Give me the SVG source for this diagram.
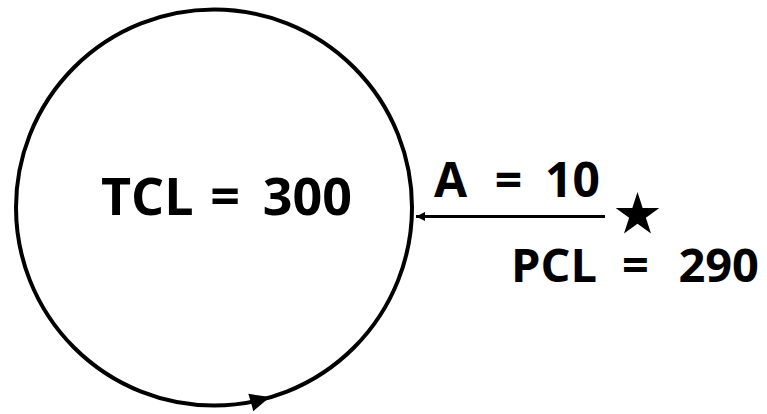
<svg xmlns="http://www.w3.org/2000/svg" width="767" height="414" viewBox="0 0 767 414">
<style>
.lbl{font-family:"Open Sans","Noto Sans","Liberation Sans",sans-serif;font-weight:bold;fill:#000}
.ln{fill:none;stroke:#000}
.m{text-anchor:middle}
.e{text-anchor:end}
</style>
<defs>
<marker id="ah" viewBox="0 0 10 10" refX="10" refY="5" markerWidth="3" markerHeight="3" orient="auto" markerUnits="strokeWidth">
<path d="M0,0 L10,5 L0,10 Z" fill="#000"/>
</marker>
</defs>
<rect width="767" height="414" fill="#fff"/>
<g id="tcl-circle">
<circle class="ln" cx="214" cy="207.5" r="198" stroke-width="4"/>
<polygon points="270,397 253.3,411.2 251,402.5 248.3,393.8" fill="#000"/>
<text class="lbl" y="215" font-size="52"><tspan x="101">TCL</tspan><tspan class="m" x="225">=</tspan><tspan class="e" x="352">300</tspan></text>
</g>
<g id="pcl-star">
<polygon points="637.5,192 642.67,207.89 659.37,207.89 645.86,217.72 651.02,233.61 637.5,223.79 623.98,233.61 629.14,217.72 615.63,207.89 632.33,207.89" fill="#000"/>
<text class="lbl" y="282" font-size="47"><tspan x="511">PCL</tspan><tspan class="m" x="635.5">=</tspan><tspan class="e" x="759">290</tspan></text>
</g>
<g id="connectors">
<line class="ln" x1="605" y1="216.5" x2="416" y2="216.5" stroke-width="3" marker-end="url(#ah)"/>
<text class="lbl" y="197" font-size="48"><tspan x="434">A</tspan><tspan class="m" x="508.5">=</tspan><tspan class="e" x="600">10</tspan></text>
</g>
</svg>
